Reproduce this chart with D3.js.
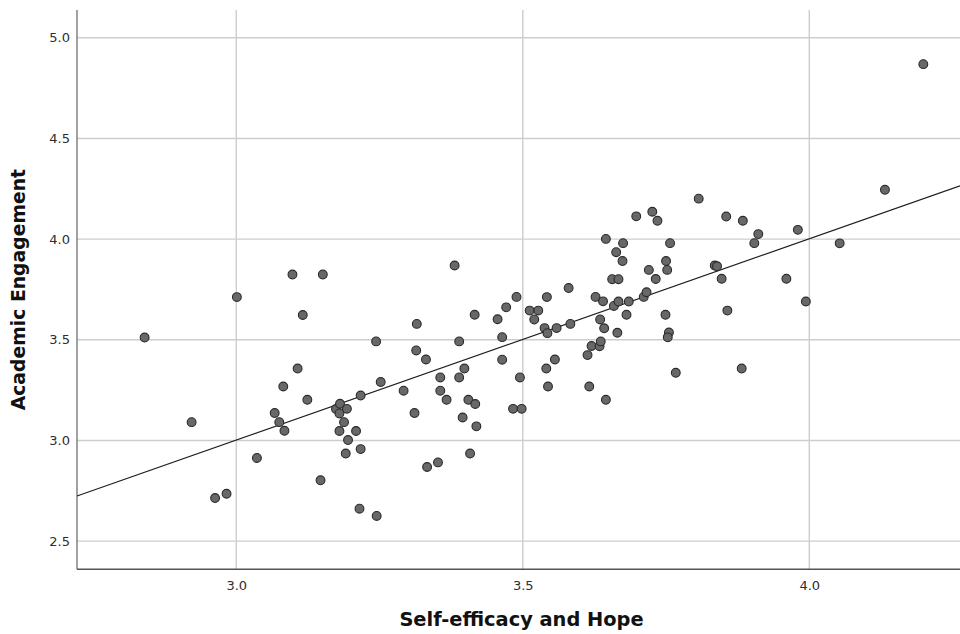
<!DOCTYPE html>
<html>
<head>
<meta charset="utf-8">
<script src="https://cdn.jsdelivr.net/npm/d3@7/dist/d3.min.js"></script>
<style>
  html, body { margin: 0; padding: 0; background: #ffffff; }
  svg { display: block; }
  text { font-family: "DejaVu Sans", "Noto Sans", sans-serif; }
</style>
</head>
<body>
<svg id="chart" width="960" height="634"></svg>
<script>
// Self-efficacy and Hope (x) vs Academic Engagement (y), one point per respondent
const selfEfficacyHope = [
  2.840, 2.922, 2.963, 2.983, 3.001, 3.036, 3.067, 3.075, 3.084, 3.082,
  3.098, 3.107, 3.116, 3.124, 3.147, 3.151, 3.174, 3.181, 3.193, 3.180,
  3.188, 3.180, 3.209, 3.195, 3.191, 3.217, 3.217, 3.215, 3.245, 3.244,
  3.252, 3.292, 3.311, 3.315, 3.314, 3.331, 3.333, 3.352, 3.356, 3.356,
  3.367, 3.381, 3.389, 3.389, 3.398, 3.395, 3.405, 3.417, 3.408, 3.419,
  3.416, 3.456, 3.471, 3.489, 3.464, 3.464, 3.495, 3.483, 3.498, 3.512,
  3.527, 3.520, 3.538, 3.543, 3.559, 3.583, 3.542, 3.580, 3.541, 3.556,
  3.544, 3.613, 3.620, 3.616, 3.627, 3.634, 3.636, 3.635, 3.642, 3.640,
  3.645, 3.645, 3.656, 3.667, 3.659, 3.663, 3.665, 3.667, 3.674, 3.675,
  3.681, 3.685, 3.698, 3.711, 3.716, 3.720, 3.726, 3.732, 3.735, 3.749,
  3.750, 3.752, 3.755, 3.753, 3.757, 3.767, 3.807, 3.835, 3.839, 3.847,
  3.855, 3.857, 3.884, 3.882, 3.904, 3.911, 3.960, 3.980, 3.994, 4.053,
  4.132, 4.199
];
const academicEngagement = [
  3.511, 3.091, 2.714, 2.735, 3.712, 2.913, 3.136, 3.091, 3.048, 3.268,
  3.824, 3.357, 3.623, 3.202, 2.802, 3.824, 3.156, 3.182, 3.157, 3.134,
  3.091, 3.047, 3.047, 3.002, 2.935, 2.957, 3.223, 2.661, 2.625, 3.492,
  3.290, 3.247, 3.136, 3.579, 3.447, 3.402, 2.868, 2.891, 3.313, 3.247,
  3.202, 3.869, 3.492, 3.313, 3.357, 3.114, 3.202, 3.181, 2.935, 3.070,
  3.624, 3.602, 3.661, 3.713, 3.513, 3.401, 3.313, 3.157, 3.157, 3.645,
  3.645, 3.601, 3.558, 3.533, 3.558, 3.579, 3.712, 3.757, 3.357, 3.402,
  3.268, 3.424, 3.469, 3.268, 3.713, 3.468, 3.492, 3.601, 3.557, 3.691,
  3.202, 4.001, 3.801, 3.801, 3.668, 3.935, 3.535, 3.690, 3.891, 3.980,
  3.624, 3.690, 4.113, 3.713, 3.736, 3.847, 4.136, 3.802, 4.091, 3.624,
  3.891, 3.847, 3.536, 3.512, 3.980, 3.336, 4.201, 3.869, 3.865, 3.803,
  4.112, 3.645, 4.091, 3.357, 3.980, 4.025, 3.803, 4.046, 3.690, 3.979,
  4.245, 4.869
];
const xTicks = [3.0, 3.5, 4.0];
const yTicks = [2.5, 3.0, 3.5, 4.0, 4.5, 5.0];
const xTitle = "Self-efficacy and Hope";
const yTitle = "Academic Engagement";

const svg = d3.select("#chart");
const plot = { left: 77, right: 960, top: 10, bottom: 569.3 };

const x = d3.scaleLinear().domain([2.722, 4.263]).range([plot.left, plot.right]);
const y = d3.scaleLinear().domain([2.36, 5.138]).range([plot.bottom, plot.top]);

// grid lines
const grid = svg.append("g").attr("stroke", "#cdcdcd").attr("stroke-width", 1.4);
grid.selectAll("line.h").data(yTicks).join("line")
  .attr("x1", plot.left).attr("x2", plot.right)
  .attr("y1", d => y(d)).attr("y2", d => y(d));
grid.selectAll("line.v").data(xTicks).join("line")
  .attr("x1", d => x(d)).attr("x2", d => x(d))
  .attr("y1", plot.top).attr("y2", plot.bottom);

// axes: tick labels only, no tick marks
const yAxis = svg.append("g")
  .attr("transform", `translate(${plot.left},0)`)
  .call(d3.axisLeft(y).tickValues(yTicks).tickFormat(d3.format(".1f")).tickSize(0).tickPadding(7));
const xAxis = svg.append("g")
  .attr("transform", `translate(0,${plot.bottom})`)
  .call(d3.axisBottom(x).tickValues(xTicks).tickFormat(d3.format(".1f")).tickSize(0).tickPadding(11));
[xAxis, yAxis].forEach(g => {
  g.select(".domain").remove();
  g.selectAll("text").attr("font-size", 13).attr("fill", "#2e2e2e")
    .attr("font-family", "\"DejaVu Sans\", sans-serif");
});

// axis lines
svg.append("line")
  .attr("x1", plot.left).attr("x2", plot.left)
  .attr("y1", plot.top).attr("y2", plot.bottom)
  .attr("stroke", "#7a7a7a").attr("stroke-width", 1.4);
svg.append("line")
  .attr("x1", plot.left).attr("x2", plot.right)
  .attr("y1", plot.bottom).attr("y2", plot.bottom)
  .attr("stroke", "#555555").attr("stroke-width", 1.4);

// least-squares fit line over the full x range
const pts = selfEfficacyHope.map((v, i) => [v, academicEngagement[i]]);
const mx = d3.mean(pts, d => d[0]);
const my = d3.mean(pts, d => d[1]);
const slope = d3.sum(pts, d => (d[0] - mx) * (d[1] - my)) / d3.sum(pts, d => (d[0] - mx) ** 2);
const intercept = my - slope * mx;
const [x0, x1] = x.domain();
svg.append("line")
  .attr("x1", x(x0)).attr("y1", y(intercept + slope * x0))
  .attr("x2", x(x1)).attr("y2", y(intercept + slope * x1))
  .attr("stroke", "#1f1f1f").attr("stroke-width", 1.2);

// scatter points
svg.append("g").selectAll("circle").data(pts).join("circle")
  .attr("cx", d => x(d[0])).attr("cy", d => y(d[1]))
  .attr("r", 4.4)
  .attr("fill", "#686868")
  .attr("stroke", "#2a2a2a")
  .attr("stroke-width", 1.1);

// axis titles
svg.append("text")
  .attr("x", (plot.left + plot.right) / 2 + 3).attr("y", 626)
  .attr("text-anchor", "middle")
  .attr("font-size", 19.4).attr("font-weight", "bold").attr("fill", "#111111")
  .text(xTitle);
svg.append("text")
  .attr("transform", `translate(25,${(plot.top + plot.bottom) / 2}) rotate(-90)`)
  .attr("text-anchor", "middle")
  .attr("font-size", 18.8).attr("font-weight", "bold").attr("fill", "#111111")
  .text(yTitle);
</script>
</body>
</html>
